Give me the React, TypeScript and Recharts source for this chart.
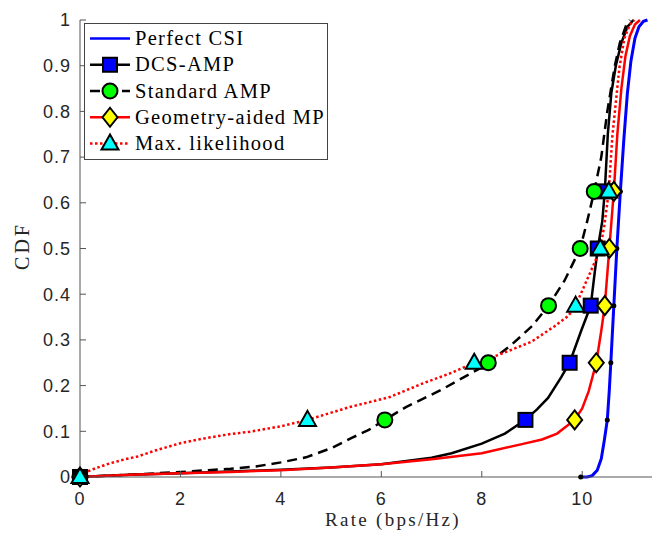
import { ComposedChart, Legend, Line, Scatter, XAxis, YAxis } from "recharts";

type Pt = { rate: number; cdf: number };

const rateTicks = [0, 2, 4, 6, 8, 10];
const cdfTicks = [0, 0.1, 0.2, 0.3, 0.4, 0.5, 0.6, 0.7, 0.8, 0.9, 1];

// CDF levels where the markers sit on every curve
const markerLevels = [0, 0.125, 0.25, 0.375, 0.5, 0.625];

const perfectCsi: Pt[] = [
  { rate: 9.97, cdf: 0 }, { rate: 10.1, cdf: 0 }, { rate: 10.2, cdf: 0.003 },
  { rate: 10.3, cdf: 0.015 }, { rate: 10.38, cdf: 0.04 }, { rate: 10.44, cdf: 0.08 },
  { rate: 10.5, cdf: 0.125 }, { rate: 10.54, cdf: 0.19 }, { rate: 10.57, cdf: 0.25 },
  { rate: 10.63, cdf: 0.375 }, { rate: 10.69, cdf: 0.5 }, { rate: 10.76, cdf: 0.625 },
  { rate: 10.83, cdf: 0.74 }, { rate: 10.9, cdf: 0.84 }, { rate: 10.97, cdf: 0.91 },
  { rate: 11.05, cdf: 0.96 }, { rate: 11.13, cdf: 0.985 }, { rate: 11.22, cdf: 0.997 },
  { rate: 11.3, cdf: 1 },
];
const perfectCsiMarks = [9.97, 10.5, 10.57, 10.63, 10.69, 10.76];

const dcsAmp: Pt[] = [
  { rate: 0, cdf: 0 }, { rate: 0.5, cdf: 0.003 }, { rate: 1, cdf: 0.005 },
  { rate: 2, cdf: 0.008 }, { rate: 3, cdf: 0.012 }, { rate: 4, cdf: 0.016 },
  { rate: 5, cdf: 0.021 }, { rate: 6, cdf: 0.028 }, { rate: 6.5, cdf: 0.035 },
  { rate: 7, cdf: 0.042 }, { rate: 7.4, cdf: 0.052 }, { rate: 8, cdf: 0.073 },
  { rate: 8.46, cdf: 0.095 }, { rate: 8.87, cdf: 0.125 }, { rate: 9.1, cdf: 0.148 },
  { rate: 9.32, cdf: 0.173 }, { rate: 9.58, cdf: 0.218 }, { rate: 9.75, cdf: 0.25 },
  { rate: 9.98, cdf: 0.32 }, { rate: 10.17, cdf: 0.375 }, { rate: 10.25, cdf: 0.448 },
  { rate: 10.31, cdf: 0.5 }, { rate: 10.4, cdf: 0.56 }, { rate: 10.45, cdf: 0.625 },
  { rate: 10.51, cdf: 0.75 }, { rate: 10.58, cdf: 0.84 }, { rate: 10.67, cdf: 0.9 },
  { rate: 10.78, cdf: 0.95 }, { rate: 10.9, cdf: 0.985 }, { rate: 11.02, cdf: 1 },
];
const dcsAmpMarks = [0, 8.87, 9.75, 10.17, 10.31, 10.45];

const standardAmp: Pt[] = [
  { rate: 0, cdf: 0 }, { rate: 1, cdf: 0.005 }, { rate: 2, cdf: 0.011 },
  { rate: 3, cdf: 0.018 }, { rate: 3.5, cdf: 0.023 }, { rate: 4, cdf: 0.032 },
  { rate: 4.5, cdf: 0.043 }, { rate: 5, cdf: 0.063 }, { rate: 5.4, cdf: 0.085 },
  { rate: 5.75, cdf: 0.103 }, { rate: 6.07, cdf: 0.125 }, { rate: 6.49, cdf: 0.153 },
  { rate: 7.18, cdf: 0.19 }, { rate: 7.54, cdf: 0.212 }, { rate: 8.0, cdf: 0.24 },
  { rate: 8.13, cdf: 0.25 }, { rate: 8.6, cdf: 0.29 }, { rate: 9.0, cdf: 0.33 },
  { rate: 9.33, cdf: 0.375 }, { rate: 9.65, cdf: 0.43 }, { rate: 9.96, cdf: 0.5 },
  { rate: 10.1, cdf: 0.56 }, { rate: 10.24, cdf: 0.625 }, { rate: 10.38, cdf: 0.7 },
  { rate: 10.5, cdf: 0.8 }, { rate: 10.65, cdf: 0.9 }, { rate: 10.75, cdf: 0.95 },
  { rate: 10.88, cdf: 0.99 }, { rate: 10.95, cdf: 1 },
];
const standardAmpMarks = [0, 6.07, 8.13, 9.33, 9.96, 10.24];

const geometryMp: Pt[] = [
  { rate: 0, cdf: 0 }, { rate: 1, cdf: 0.005 }, { rate: 2, cdf: 0.008 },
  { rate: 3, cdf: 0.011 }, { rate: 4, cdf: 0.015 }, { rate: 5, cdf: 0.021 },
  { rate: 6, cdf: 0.028 }, { rate: 7, cdf: 0.039 }, { rate: 8, cdf: 0.052 },
  { rate: 8.8, cdf: 0.072 }, { rate: 9.2, cdf: 0.082 }, { rate: 9.5, cdf: 0.095 },
  { rate: 9.85, cdf: 0.125 }, { rate: 10.0, cdf: 0.15 }, { rate: 10.13, cdf: 0.188 },
  { rate: 10.28, cdf: 0.25 }, { rate: 10.38, cdf: 0.32 }, { rate: 10.45, cdf: 0.375 },
  { rate: 10.54, cdf: 0.5 }, { rate: 10.63, cdf: 0.625 }, { rate: 10.7, cdf: 0.75 },
  { rate: 10.78, cdf: 0.85 }, { rate: 10.86, cdf: 0.92 }, { rate: 10.95, cdf: 0.965 },
  { rate: 11.05, cdf: 0.99 }, { rate: 11.15, cdf: 1 },
];
const geometryMpMarks = [0, 9.85, 10.28, 10.45, 10.54, 10.63];

const maxLikelihood: Pt[] = [
  { rate: 0, cdf: 0 }, { rate: 0.1, cdf: 0.01 }, { rate: 0.33, cdf: 0.02 },
  { rate: 0.6, cdf: 0.03 }, { rate: 0.9, cdf: 0.039 }, { rate: 1.15, cdf: 0.045 },
  { rate: 1.5, cdf: 0.058 }, { rate: 2.0, cdf: 0.074 }, { rate: 2.5, cdf: 0.085 },
  { rate: 3.0, cdf: 0.094 }, { rate: 3.38, cdf: 0.099 }, { rate: 4.0, cdf: 0.111 },
  { rate: 4.53, cdf: 0.125 }, { rate: 5.37, cdf: 0.153 }, { rate: 6.17, cdf: 0.175 },
  { rate: 6.83, cdf: 0.205 }, { rate: 7.4, cdf: 0.228 }, { rate: 7.85, cdf: 0.25 },
  { rate: 8.33, cdf: 0.267 }, { rate: 8.99, cdf: 0.296 }, { rate: 9.45, cdf: 0.33 },
  { rate: 9.72, cdf: 0.352 }, { rate: 9.87, cdf: 0.375 }, { rate: 10.05, cdf: 0.42 },
  { rate: 10.25, cdf: 0.47 }, { rate: 10.36, cdf: 0.5 }, { rate: 10.44, cdf: 0.55 },
  { rate: 10.53, cdf: 0.625 }, { rate: 10.6, cdf: 0.745 }, { rate: 10.74, cdf: 0.895 },
  { rate: 10.84, cdf: 0.96 }, { rate: 10.95, cdf: 0.99 }, { rate: 11.04, cdf: 1 },
];
const maxLikelihoodMarks = [0, 4.53, 7.85, 9.87, 10.36, 10.53];

const marks = (rates: number[]): Pt[] =>
  rates.map((rate, i) => ({ rate, cdf: markerLevels[i] }));

const SANS = "'Liberation Sans', Arial, sans-serif";
const SERIF = "'Liberation Serif', 'Times New Roman', serif";
const AXIS = "#555";

type ShapeProps = { cx?: number; cy?: number };

const Square = ({ cx = 0, cy = 0 }: ShapeProps) => (
  <rect x={cx - 7} y={cy - 7} width={14} height={14} fill="#0000ff" stroke="#000" strokeWidth={2} />
);
const Round = ({ cx = 0, cy = 0 }: ShapeProps) => (
  <circle cx={cx} cy={cy} r={7.5} fill="#00ff00" stroke="#000" strokeWidth={2} />
);
const Diamond = ({ cx = 0, cy = 0 }: ShapeProps) => (
  <polygon
    points={`${cx},${cy - 9.5} ${cx + 7.5},${cy} ${cx},${cy + 9.5} ${cx - 7.5},${cy}`}
    fill="#ffff00"
    stroke="#000"
    strokeWidth={2}
  />
);
const Triangle = ({ cx = 0, cy = 0 }: ShapeProps) => (
  <polygon
    points={`${cx},${cy - 9} ${cx + 8.5},${cy + 6} ${cx - 8.5},${cy + 6}`}
    fill="#00ffff"
    stroke="#000"
    strokeWidth={2}
  />
);
const Dot = ({ cx = 0, cy = 0 }: ShapeProps) => <circle cx={cx} cy={cy} r={2.5} fill="#000" />;

const legendRows = [
  { name: "Perfect CSI", color: "#0000ff", dash: undefined, width: 2.5, Mark: null },
  { name: "DCS-AMP", color: "#000", dash: undefined, width: 2.5, Mark: Square },
  { name: "Standard AMP", color: "#000", dash: "10 6", width: 2.5, Mark: Round },
  { name: "Geometry-aided MP", color: "#ff0000", dash: undefined, width: 2.5, Mark: Diamond },
  { name: "Max. likelihood", color: "#ff0000", dash: "2.5 2.5", width: 2.5, Mark: Triangle },
];

function LegendBox() {
  return (
    <svg width={244} height={137} style={{ display: "block" }}>
      <rect x={0.5} y={0.5} width={243} height={136} fill="#fff" stroke="#444" />
      {legendRows.map((row, i) => {
        const y = 15.5 + i * 26.25;
        const Mark = row.Mark;
        return (
          <g key={row.name}>
            <line x1={6} x2={46} y1={y} y2={y} stroke={row.color} strokeWidth={row.width} strokeDasharray={row.dash} />
            {Mark && <Mark cx={26} cy={y} />}
            <text x={51} y={y + 6.5} fontFamily={SERIF} fontSize={20.5} letterSpacing={1.3} fill="#000">
              {row.name}
            </text>
          </g>
        );
      })}
    </svg>
  );
}

export default function App() {
  return (
    <div style={{ position: "absolute", left: 0, top: 0, background: "#fff" }}>
      <ComposedChart width={652} height={534} margin={{ top: 20, right: 0, left: 0, bottom: 0 }}>
        <XAxis
          xAxisId="top"
          orientation="top"
          type="number"
          dataKey="rate"
          domain={[0, 11.39]}
          ticks={rateTicks}
          height={0}
          tickSize={-6}
          tickFormatter={() => ""}
          stroke={AXIS}
        />
        <XAxis
          type="number"
          dataKey="rate"
          domain={[0, 11.39]}
          ticks={rateTicks}
          height={57}
          tickSize={-6}
          tickMargin={21}
          stroke={AXIS}
          tick={{ fill: "#262626", fontFamily: SANS, fontSize: 18, letterSpacing: 1 }}
          label={() => (
            <text x={393} y={526} textAnchor="middle" fontFamily={SERIF} fontSize={19} letterSpacing={2.3} fill="#262626">
              Rate (bps/Hz)
            </text>
          )}
        />
        <YAxis
          type="number"
          dataKey="cdf"
          domain={[0, 1]}
          ticks={cdfTicks}
          width={80}
          tickSize={-6}
          tickMargin={15}
          stroke={AXIS}
          tick={{ fill: "#262626", fontFamily: SANS, fontSize: 18, letterSpacing: 1 }}
          tickFormatter={(v: number) => String(v)}
          label={() => (
            <text
              x={29}
              y={246}
              transform="rotate(-90 29 246)"
              textAnchor="middle"
              fontFamily={SERIF}
              fontSize={20}
              letterSpacing={3}
              fill="#262626"
            >
              CDF
            </text>
          )}
        />
        <Legend
          layout="vertical"
          align="center"
          verticalAlign="middle"
          wrapperStyle={{ left: 84, top: 23, width: 244, height: 137 }}
          content={() => <LegendBox />}
        />

        <Line data={perfectCsi} dataKey="cdf" stroke="#0000ff" strokeWidth={3} dot={false} isAnimationActive={false} />
        <Scatter data={marks(perfectCsiMarks)} dataKey="cdf" shape={Dot} isAnimationActive={false} />

        <Line data={dcsAmp} dataKey="cdf" stroke="#000" strokeWidth={2.5} dot={false} isAnimationActive={false} />
        <Scatter data={marks(dcsAmpMarks)} dataKey="cdf" shape={Square} isAnimationActive={false} />

        <Line data={standardAmp} dataKey="cdf" stroke="#000" strokeWidth={2.5} strokeDasharray="10 6" dot={false} isAnimationActive={false} />
        <Scatter data={marks(standardAmpMarks)} dataKey="cdf" shape={Round} isAnimationActive={false} />

        <Line data={geometryMp} dataKey="cdf" stroke="#ff0000" strokeWidth={2.5} dot={false} isAnimationActive={false} />
        <Scatter data={marks(geometryMpMarks)} dataKey="cdf" shape={Diamond} isAnimationActive={false} />

        <Line data={maxLikelihood} dataKey="cdf" stroke="#ff0000" strokeWidth={2.5} strokeDasharray="2.5 2.5" dot={false} isAnimationActive={false} />
        <Scatter data={marks(maxLikelihoodMarks)} dataKey="cdf" shape={Triangle} isAnimationActive={false} />
      </ComposedChart>
    </div>
  );
}
